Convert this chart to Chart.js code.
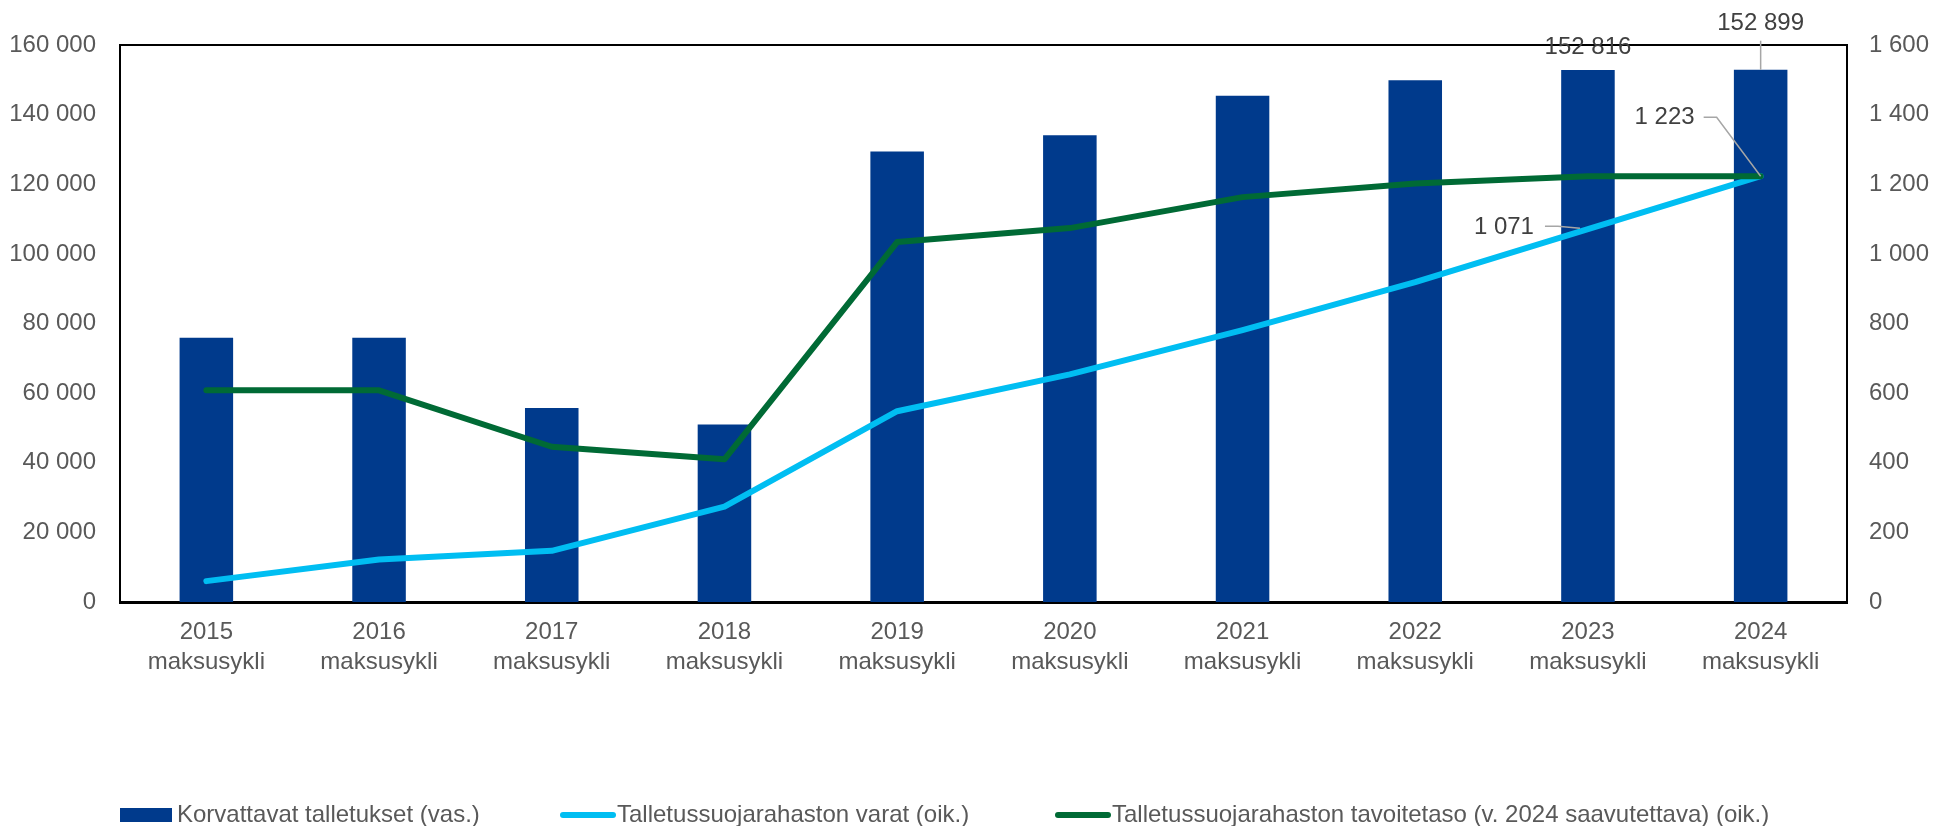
<!DOCTYPE html>
<html>
<head>
<meta charset="utf-8">
<script src="https://cdn.jsdelivr.net/npm/chart.js@4/dist/chart.umd.min.js"></script>
<style>
  html, body { margin: 0; padding: 0; background: #fff; }
  #wrap { width: 1934px; height: 826px; }
</style>
</head>
<body>
<div id="wrap"><canvas id="chart" width="1934" height="826"></canvas></div>
<script>
var years = ["2015", "2016", "2017", "2018", "2019", "2020", "2021", "2022", "2023", "2024"];
var talletukset = [75900, 75900, 55700, 51000, 129400, 134100, 145400, 149900, 152816, 152899];
var varat = [60, 122, 147, 274, 548, 654, 781, 919, 1071, 1223];
var tavoite = [608, 608, 446, 410, 1034, 1074, 1163, 1202, 1223, 1223];
var seriesNames = ["Korvattavat talletukset (vas.)", "Talletussuojarahaston varat (oik.)", "Talletussuojarahaston tavoitetaso (v. 2024 saavutettava) (oik.)"];

var blue = "#003A8C", cyan = "#00BEF2", green = "#006A35";
var FONT = "Liberation Sans, Arial, sans-serif";
var FS = 24;

function fmt(v) {
  return String(v).replace(/\B(?=(\d{3})+(?!\d))/g, " ");
}

// labels with leader lines, like the ones in the original
var calloutPlugin = {
  id: "callouts",
  afterDatasetsDraw: function(chart) {
    var ctx = chart.ctx;
    var bars = chart.getDatasetMeta(0).data;
    var cy = chart.getDatasetMeta(1).data;
    var gr = chart.getDatasetMeta(2).data;
    ctx.save();
    ctx.font = FS + "px " + FONT;
    ctx.fillStyle = "#404040";
    ctx.strokeStyle = "#A6A6A6";
    ctx.lineWidth = 1.5;
    ctx.textBaseline = "middle";

    // 2023 bar
    var b = bars[8];
    ctx.textAlign = "center";
    ctx.fillText(fmt(talletukset[8]), b.x, b.y - 23);

    // 2024 bar
    b = bars[9];
    ctx.beginPath();
    ctx.moveTo(b.x, b.y);
    ctx.lineTo(b.x, b.y - 29);
    ctx.stroke();
    ctx.fillText(fmt(talletukset[9]), b.x, b.y - 46);

    // 1 223 at 2024 point
    var p = gr[9];
    ctx.beginPath();
    ctx.moveTo(p.x, p.y);
    ctx.lineTo(p.x - 44, p.y - 59);
    ctx.lineTo(p.x - 57, p.y - 59);
    ctx.stroke();
    ctx.textAlign = "right";
    ctx.fillText(fmt(tavoite[9]), p.x - 66, p.y - 59);

    // 1 071 at 2023 point
    p = cy[8];
    ctx.beginPath();
    ctx.moveTo(p.x - 8, p.y - 1);
    ctx.lineTo(p.x - 30, p.y - 3);
    ctx.lineTo(p.x - 43, p.y - 3);
    ctx.stroke();
    ctx.fillText(fmt(varat[8]), p.x - 54, p.y - 2);
    ctx.restore();
  }
};

// frame round the plot area and the legend at the bottom
var framePlugin = {
  id: "frame",
  beforeDatasetsDraw: function(chart) {
    var a = chart.chartArea, ctx = chart.ctx;
    ctx.save();
    ctx.strokeStyle = "#000";
    ctx.lineWidth = 2;
    ctx.strokeRect(a.left, a.top, a.right - a.left, a.bottom - a.top);
    ctx.restore();
  },
  afterDraw: function(chart) {
    var ctx = chart.ctx;
    var a = chart.chartArea;
    var y = 815;
    var starts = [a.left, 560, 1055];
    ctx.save();
    ctx.font = FS + "px " + FONT;
    ctx.textBaseline = "alphabetic";
    ctx.textAlign = "left";
    // bar swatch
    ctx.fillStyle = blue;
    ctx.fillRect(starts[0], y - 7, 52, 14);
    // line swatches
    ctx.lineCap = "round";
    ctx.lineWidth = 6;
    [cyan, green].forEach(function(c, i) {
      ctx.strokeStyle = c;
      ctx.beginPath();
      ctx.moveTo(starts[i + 1] + 3, y);
      ctx.lineTo(starts[i + 1] + 53, y);
      ctx.stroke();
    });
    ctx.fillStyle = "#595959";
    for (var i = 0; i < seriesNames.length; i++) {
      ctx.fillText(seriesNames[i], starts[i] + 57, y + 7);
    }
    ctx.restore();
  }
};

new Chart("chart", {
  type: "bar",
  data: {
    labels: years.map(function(y) { return [y, "maksusykli"]; }),
    datasets: [{
      label: seriesNames[0],
      data: talletukset,
      backgroundColor: blue,
      yAxisID: "y",
      barPercentage: 0.31,
      categoryPercentage: 1,
      order: 2
    }, {
      type: "line",
      label: seriesNames[1],
      data: varat,
      borderColor: cyan,
      backgroundColor: cyan,
      borderWidth: 6,
      borderCapStyle: "round",
      borderJoinStyle: "round",
      pointRadius: 0,
      tension: 0,
      yAxisID: "y1",
      order: 1
    }, {
      type: "line",
      label: seriesNames[2],
      data: tavoite,
      borderColor: green,
      backgroundColor: green,
      borderWidth: 6,
      borderCapStyle: "round",
      borderJoinStyle: "round",
      pointRadius: 0,
      tension: 0,
      yAxisID: "y1",
      order: 0
    }]
  },
  options: {
    responsive: false,
    animation: false,
    devicePixelRatio: 1,
    layout: { padding: { top: 45, left: 0, right: 0, bottom: 0 } },
    plugins: {
      legend: { display: false },
      tooltip: { enabled: false }
    },
    scales: {
      x: {
        grid: { display: false, drawTicks: false },
        border: { display: true, color: "#000", width: 3 },
        ticks: {
          color: "#595959",
          font: { family: FONT, size: FS, lineHeight: 1.25 },
          padding: 15,
          maxRotation: 0,
          autoSkip: false
        },
        afterFit: function(s) { s.height = 224; }
      },
      y: {
        position: "left",
        min: 0,
        max: 160000,
        grid: { display: false, drawTicks: false },
        border: { display: true, color: "#000", width: 2 },
        ticks: {
          stepSize: 20000,
          color: "#595959",
          font: { family: FONT, size: FS },
          padding: 24,
          callback: function(v) { return fmt(v); }
        },
        afterFit: function(s) { s.width = 120; }
      },
      y1: {
        position: "right",
        min: 0,
        max: 1600,
        grid: { display: false, drawTicks: false },
        border: { display: true, color: "#000", width: 2 },
        ticks: {
          stepSize: 200,
          color: "#595959",
          font: { family: FONT, size: FS },
          padding: 22,
          callback: function(v) { return fmt(v); }
        },
        afterFit: function(s) { s.width = 87; }
      }
    }
  },
  plugins: [framePlugin, calloutPlugin]
});
</script>
</body>
</html>
